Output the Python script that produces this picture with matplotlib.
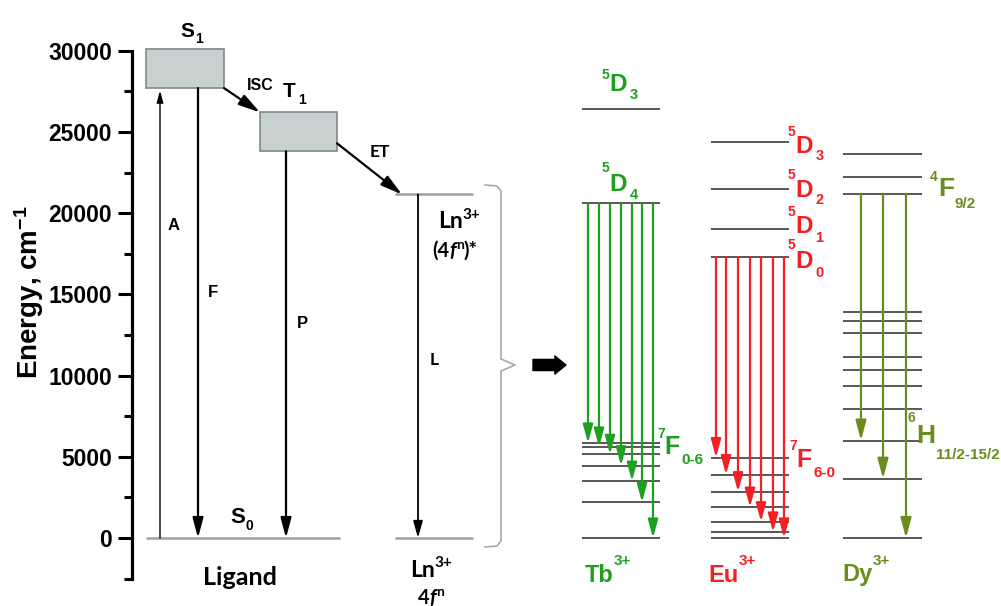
import matplotlib
matplotlib.use("Agg")
import matplotlib.pyplot as plt
from matplotlib.patches import Rectangle

# ---------------- data: energies in cm^-1 ----------------
s1_band = [27700, 30100]
t1_band = [23800, 26200]
s0_level = 0
ln_levels = [21150, 0]                                  # (4f^n)*, 4f^n
tb_upper = [26400, 20600]                               # 5D3, 5D4
tb_lower = [5850, 5600, 5150, 4450, 3500, 2200, 0]      # 7F0 ... 7F6
eu_upper = [24400, 21500, 19000, 17300]                 # 5D3 ... 5D0
eu_lower = [4950, 3900, 2850, 1900, 1000, 370, 0]       # 7F6 ... 7F0
dy_upper = [23650, 22200, 21200]                        # ..., 4F9/2
dy_lower = [13900, 13350, 12600, 11150, 10350, 9350, 7950, 6000, 3650, 0]
dy_targets = [6000, 3650, 0]
yticks = [0, 5000, 10000, 15000, 20000, 25000, 30000]
ytick_labels = ["0", "5000", "10000", "15000", "20000", "25000", "30000"]
yminor = [-2500, 2500, 7500, 12500, 17500, 22500, 27500]

# ---------------- styles ----------------
TB = "#1ea01e"
EU = "#f51e23"
DY = "#6a8c1e"
LEV = "#4a4a4a"
LIGHT = "#a0a0a0"
ARIAL = "Liberation Sans"
CALI = "Lato"

plt.rcParams["mathtext.fontset"] = "custom"
plt.rcParams["mathtext.bf"] = "Liberation Sans:bold"
plt.rcParams["mathtext.rm"] = "Liberation Sans:bold"
plt.rcParams["mathtext.default"] = "bf"

W, H = 1001, 606
K = 0.016243   # pixels per cm^-1
Y0 = 538       # pixel row of 0 cm^-1

fig = plt.figure(figsize=(W / 100, H / 100), dpi=100)
ax = fig.add_axes([0, 0, 1, 1])
ax.set_xlim(0, W)
ax.set_ylim((Y0 - H) / K, Y0 / K)
ax.patch.set_visible(False)
for s in ["top", "right", "bottom"]:
    ax.spines[s].set_visible(False)
ax.spines["left"].set_position(("data", 132))
ax.spines["left"].set_bounds(-2500, 30000)
ax.spines["left"].set_linewidth(2.3)
ax.xaxis.set_visible(False)
ax.set_yticks(yticks, ytick_labels)
ax.set_yticks(yminor, minor=True)
ax.tick_params(axis="y", which="major", length=10, width=2.2, pad=4.5,
               labelsize=16.5)
ax.tick_params(axis="y", which="minor", length=6, width=2.2)
for lab in ax.get_yticklabels():
    lab.set_fontweight("bold")
    lab.set_family(ARIAL)

fig.text(29 / W, 1 - 292 / H, r"Energy, cm$^{-1}$", rotation=90, fontsize=20,
         fontweight="bold", family=ARIAL, ha="center", va="center")

renderer = fig.canvas.get_renderer()


def rich(x, pieces, color="black", family=ARIAL):
    """pieces: (text, size, baseline_px, italic, gap_after_px)"""
    cur = x
    for txt, size, yb, ital, gap in pieces:
        t = fig.text(cur / W, 1 - yb / H, txt, fontsize=size, color=color,
                     family=family, fontweight="bold",
                     fontstyle="italic" if ital else "normal",
                     ha="left", va="baseline")
        cur += t.get_window_extent(renderer).width + gap


def arrow(x0, y0, x1, y1, color="black", lw=1.5, hl=1.2, hw=0.32, shrink=0):
    ax.annotate("", xy=(x1, y1), xytext=(x0, y0),
                arrowprops=dict(arrowstyle=f"-|>,head_length={hl},head_width={hw}",
                                color=color, lw=lw, mutation_scale=10,
                                shrinkA=0, shrinkB=shrink))


def levels(x0, x1, ys, color=LEV, lw=1.3):
    for y in ys:
        ax.plot([x0, x1], [y, y], color=color, lw=lw, solid_capstyle="butt")


# ---------------- ligand ----------------
box_fc, box_ec = "#c9d0d0", "#7e8a8a"
ax.add_patch(Rectangle((146, s1_band[0]), 78, s1_band[1] - s1_band[0],
                       fc=box_fc, ec=box_ec, lw=1.2, zorder=2))
ax.add_patch(Rectangle((260, t1_band[0]), 77, t1_band[1] - t1_band[0],
                       fc=box_fc, ec=box_ec, lw=1.2, zorder=2))
levels(146, 340, [s0_level], color=LIGHT, lw=1.8)

arrow(160, s0_level, 160, s1_band[0], lw=1.0, hl=0.7, hw=0.2, shrink=2)
arrow(198, s1_band[0], 198, s0_level, lw=1.6)
arrow(286, t1_band[0], 286, s0_level, lw=1.6)
arrow(224, s1_band[0], 260, t1_band[1], lw=1.6, hl=1.3, hw=0.35)
arrow(337, t1_band[0] + 500, 402, ln_levels[0], lw=1.6, hl=1.3, hw=0.35)

# Ln generic
levels(395, 473, ln_levels, color=LIGHT, lw=1.8)
arrow(418, ln_levels[0], 418, ln_levels[1], lw=1.3, hl=1.0, hw=0.28)

# brace
bx = [485, 497, 501, 501, 515, 501, 501, 497, 485]
by_px = [185, 186, 191, 359, 365, 371, 541, 546, 547]
ax.plot(bx, [(Y0 - p) / K for p in by_px], color="#a8a8a8", lw=1.2)

# fat arrow
ax.annotate("", xy=(566, (Y0 - 365) / K), xytext=(533, (Y0 - 365) / K),
            arrowprops=dict(arrowstyle="simple,head_length=0.4,head_width=0.65,tail_width=0.4",
                            color="black", mutation_scale=20, shrinkA=0, shrinkB=0))

# ---------------- Tb ----------------
levels(582, 660, tb_upper + tb_lower)
tb_x = [588, 599, 610, 621, 632, 642, 653]
for x, y in zip(tb_x, tb_lower):
    arrow(x, tb_upper[1], x, y, color=TB, lw=1.6, hl=1.1, hw=0.3)

# ---------------- Eu ----------------
levels(711, 789, eu_upper + eu_lower)
eu_x = [716, 726, 738, 750, 761, 773, 784]
for x, y in zip(eu_x, eu_lower):
    arrow(x, eu_upper[-1], x, y, color=EU, lw=1.6, hl=1.1, hw=0.3)

# ---------------- Dy ----------------
levels(843, 922, dy_upper + dy_lower)
dy_x = [861, 883, 906]
for x, y in zip(dy_x, dy_targets):
    arrow(x, dy_upper[-1], x, y, color=DY, lw=1.6, hl=1.2, hw=0.32)

# ---------------- labels ----------------
rich(180, [("S", 15, 37, False, 1), ("1", 10, 43, False, 0)])
rich(247, [("ISC", 11.5, 90, False, 0)])
rich(283, [("T", 15, 97, False, 2), ("1", 10, 104, False, 0)])
rich(168, [("A", 12, 230, False, 0)])
rich(208, [("F", 12, 297, False, 0)])
rich(297, [("P", 12, 328, False, 0)])
rich(230, [("S", 16, 523, False, 1), ("0", 10, 530, False, 0)])
rich(203, [("Ligand", 18, 585, False, 0)], family=CALI)
rich(370, [("ET", 12.5, 157, False, 0)], family=CALI)
rich(430, [("L", 12.5, 365, False, 0)], family=CALI)
rich(438, [("Ln", 16.5, 228, False, 0), ("3+", 11, 219, False, 0)], family=CALI)
rich(432, [("(4", 14.5, 257, False, 0), ("f", 14.5, 257, True, 0),
           ("n", 10, 249, False, 0), (")*", 14.5, 257, False, 0)], family=CALI)
rich(410, [("Ln", 16.5, 577, False, 0), ("3+", 11, 567, False, 0)], family=CALI)
rich(418, [("4", 14.5, 604, False, 0), ("f", 14.5, 604, True, 0),
           ("n", 10, 596, False, 0)], family=CALI)

# Tb terms
rich(602, [("5", 10, 79, False, 0), ("D", 17.5, 91, False, 2), ("3", 10.5, 99, False, 0)], color=TB)
rich(602, [("5", 10, 172, False, 0), ("D", 17.5, 191, False, 2), ("4", 10.5, 199, False, 0)], color=TB)
rich(657, [("7", 10, 438, False, 0), ("F", 18, 454, False, 1), ("0-6", 11, 464, False, 0)], color=TB)
rich(585, [("Tb", 17, 582, False, 0), ("3+", 11, 565, False, 0)], color=TB)

# Eu terms
rich(788, [("5", 10, 136, False, 0), ("D", 17.5, 153, False, 2), ("3", 10.5, 160, False, 0)], color=EU)
rich(788, [("5", 10, 179, False, 0), ("D", 17.5, 197, False, 2), ("2", 10.5, 204, False, 0)], color=EU)
rich(788, [("5", 10, 216, False, 0), ("D", 17.5, 233, False, 2), ("1", 10.5, 242, False, 0)], color=EU)
rich(788, [("5", 10, 249, False, 0), ("D", 17.5, 268, False, 2), ("0", 10.5, 277, False, 0)], color=EU)
rich(789, [("7", 10, 450, False, 0), ("F", 18, 467, False, 1), ("6-0", 11, 477, False, 0)], color=EU)
rich(708, [("Eu", 17, 582, False, 0), ("3+", 11, 565, False, 0)], color=EU)

# Dy terms
rich(930, [("4", 10, 181, False, 0), ("F", 19, 196, False, 1), ("9/2", 11, 208, False, 0)], color=DY)
rich(908, [("6", 10, 422, False, 0), ("H", 19, 443, False, 1), ("11/2-15/2", 11, 459, False, 0)], color=DY)
rich(842, [("Dy", 17, 581, False, 0), ("3+", 11, 565, False, 0)], color=DY)

fig.savefig("out.png", dpi=100)
